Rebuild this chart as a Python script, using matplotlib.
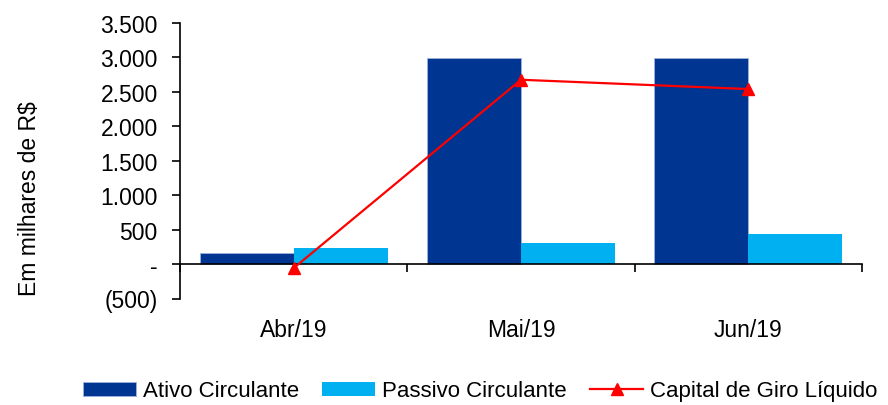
import matplotlib
matplotlib.use('Agg')
import matplotlib.pyplot as plt
import numpy as np
from matplotlib.ticker import FuncFormatter

plt.rcParams['font.family'] = ['Liberation Sans', 'DejaVu Sans']

# dados (em milhares de R$)
meses = ['Abr/19', 'Mai/19', 'Jun/19']
ativo = [167, 2995, 2995]
passivo = [226, 313, 434]
capital_giro = [-59, 2676, 2541]

cor_ativo = '#003591'
cor_passivo = '#00B0F0'
cor_cgl = '#FF0000'

fig = plt.figure(figsize=(8.88, 4.06), dpi=100)
ax = fig.add_axes([180 / 888, 1 - 299.5 / 406, (862 - 180) / 888, (299.5 - 24) / 406])

x = np.arange(len(meses))
w = 0.414
b1 = ax.bar(x - w / 2, ativo, w, color=cor_ativo, edgecolor='#9DB3DD', linewidth=0.6,
            label='Ativo Circulante', zorder=2)
b2 = ax.bar(x + w / 2, passivo, w, color=cor_passivo, label='Passivo Circulante', zorder=2)
l1, = ax.plot(x, capital_giro, color=cor_cgl, lw=1.6, marker='^', markersize=8,
              label='Capital de Giro Líquido', zorder=4)

ax.set_xlim(-0.5, 2.5)
ax.set_ylim(-500, 3500)
ax.set_yticks(np.arange(-500, 3501, 500))


def fmt(v, pos):
    if v == 0:
        return '-'
    s = f'{abs(v):,.0f}'.replace(',', '.')
    return f'({s})' if v < 0 else s


ax.yaxis.set_major_formatter(FuncFormatter(fmt))
ax.tick_params(axis='y', labelsize=16.5, length=6, width=1.2, pad=10, direction='out')

# rótulos das categorias
ax.set_xticks(x)
ax.set_xticklabels(meses, fontsize=16.5)
ax.tick_params(axis='x', length=0, pad=14)

for s in ['top', 'right', 'bottom']:
    ax.spines[s].set_visible(False)
ax.spines['left'].set_linewidth(1.2)

# linha do zero com marcas entre as categorias
zero = ax.secondary_xaxis(500 / 4000)
zero.set_xticks([-0.5, 0.5, 1.5, 2.5])
zero.tick_params(axis='x', labelbottom=False, length=6, width=1.2, direction='out')
zero.spines['bottom'].set_linewidth(1.2)
zero.set_zorder(3)

fig.text(30 / 888, 1 - 199 / 406, 'Em milhares de R$', fontsize=16.5, rotation=90,
         ha='center', va='center')

fig.legend([b1, b2, l1], ['Ativo Circulante', 'Passivo Circulante', 'Capital de Giro Líquido'],
           loc='center', bbox_to_anchor=(480 / 888, 1 - 392 / 406), ncol=3,
           frameon=False, fontsize=16, handlelength=2.4, handleheight=0.6,
           handletextpad=0.3, columnspacing=1.05, borderpad=0)

fig.savefig('out.png', dpi=100)
